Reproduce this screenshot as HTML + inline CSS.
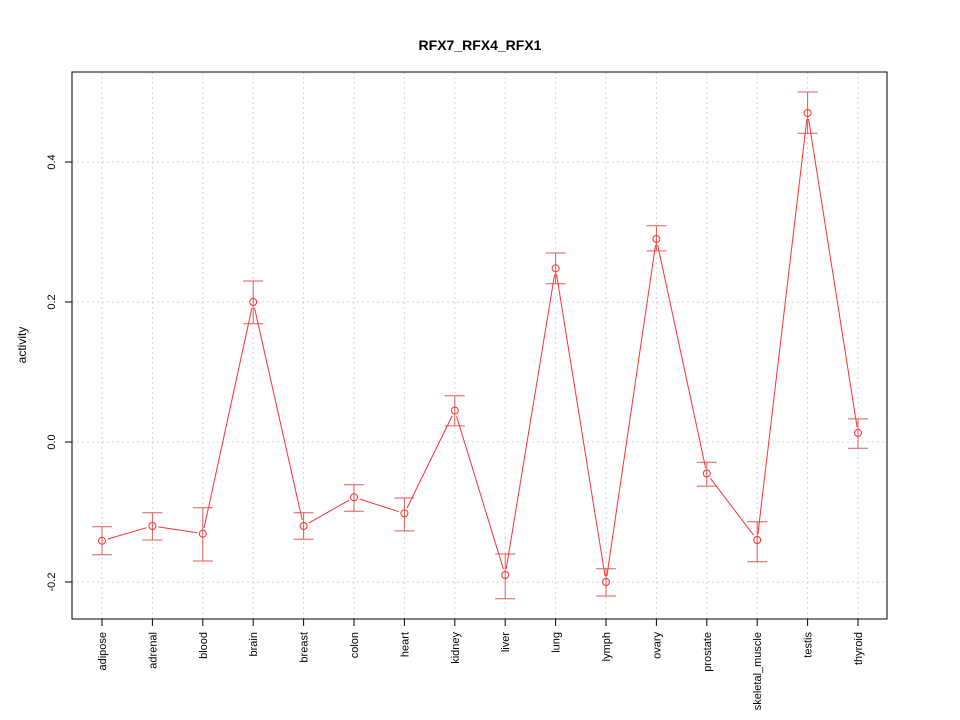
<!DOCTYPE html>
<html><head><meta charset="utf-8"><style>body{margin:0;background:#fff}svg{display:block}</style></head>
<body>
<svg id="chart" width="960" height="720" xmlns="http://www.w3.org/2000/svg" font-family="Liberation Sans, sans-serif">
<text x="480" y="50" text-anchor="middle" font-size="14" font-weight="bold">RFX7_RFX4_RFX1</text>
<text transform="translate(26,345) rotate(-90)" text-anchor="middle" font-size="12">activity</text>
<g id="grid"></g>
<g id="marks"></g>
<g id="axes"></g>
<rect x="72" y="72" width="815" height="547" fill="none" stroke="#000" stroke-width="1"/>
</svg>
<script>
const categories=["adipose","adrenal","blood","brain","breast","colon","heart","kidney","liver","lung","lymph","ovary","prostate","skeletal_muscle","testis","thyroid"];
const values=[-0.141,-0.120,-0.131,0.200,-0.120,-0.079,-0.102,0.045,-0.190,0.248,-0.200,0.290,-0.045,-0.140,0.470,0.013];
const upper=[-0.121,-0.101,-0.094,0.230,-0.101,-0.061,-0.080,0.066,-0.160,0.270,-0.181,0.309,-0.029,-0.114,0.500,0.033];
const lower=[-0.161,-0.140,-0.170,0.169,-0.139,-0.099,-0.127,0.023,-0.224,0.226,-0.220,0.273,-0.063,-0.171,0.441,-0.009];
const yTicks=[-0.2,0.0,0.2,0.4];
const yTickLabels=["-0.2","0.0","0.2","0.4"];
const NS="http://www.w3.org/2000/svg";
const x=i=>102+i*(858-102)/(categories.length-1);
const y=v=>442-v*700;
function mk(t,a,p){const e=document.createElementNS(NS,t);for(const k in a)e.setAttribute(k,a[k]);p.appendChild(e);return e;}
const grid=document.getElementById('grid'),marks=document.getElementById('marks'),axes=document.getElementById('axes');
categories.forEach((c,i)=>{
 const g=mk('line',{x1:x(i),x2:x(i),y1:72,y2:619,stroke:'#d3d3d3','stroke-dasharray':'2,3'},grid);
 
 
 const t=mk('line',{x1:x(i),x2:x(i),y1:619,y2:626,stroke:'#000'},axes);
 
 
 const l=mk('text',{transform:`translate(${x(i)+4},632) rotate(-90)`,'text-anchor':'end','font-size':'11'},axes);
 l.textContent=c;
 
 
});
yTicks.forEach((v,i)=>{
 const g=mk('line',{x1:72,x2:887,y1:y(v),y2:y(v),stroke:'#d3d3d3','stroke-dasharray':'2,3'},grid);
 
 
 const t=mk('line',{x1:65,x2:72,y1:y(v),y2:y(v),stroke:'#000'},axes);
 
 
 const l=mk('text',{transform:`translate(55,${y(v)}) rotate(-90)`,'text-anchor':'middle','font-size':'11'},axes);
 l.textContent=yTickLabels[i];
 
 
});
const col='#ff3030';
values.forEach((v,i)=>{
 const e=mk('g',{stroke:'#e05a5a','stroke-width':1},marks);
 
 
 mk('line',{x1:x(i),x2:x(i),y1:y(upper[i]),y2:y(lower[i])},e);
 mk('line',{x1:x(i)-10,x2:x(i)+10,y1:y(upper[i]),y2:y(upper[i])},e);
 mk('line',{x1:x(i)-10,x2:x(i)+10,y1:y(lower[i]),y2:y(lower[i])},e);
 if(i<values.length-1){
  const x0=x(i),y0=y(v),x1=x(i+1),y1=y(values[i+1]);
  const d=Math.hypot(x1-x0,y1-y0),gp=6,ux=(x1-x0)/d,uy=(y1-y0)/d;
  const s=mk('line',{x1:x0+ux*gp,y1:y0+uy*gp,x2:x1-ux*gp,y2:y1-uy*gp,stroke:col},marks);
  
  
 }
 const p=mk('circle',{cx:x(i),cy:y(v),r:3.5,fill:'none',stroke:col},marks);
 
 
});
</script>
</body></html>
